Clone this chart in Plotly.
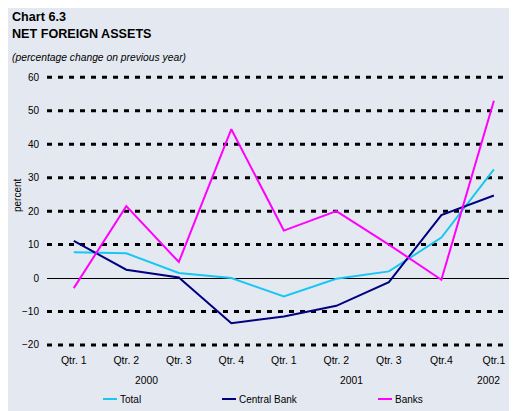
import plotly.graph_objects as go

QUARTERS = ["Qtr. 1", "Qtr. 2", "Qtr. 3", "Qtr. 4", "Qtr. 1", "Qtr. 2", "Qtr. 3", "Qtr.4", "Qtr.1"]
YEARS = ["2000", "2001", "2002"]
TOTAL = [7.7, 7.4, 1.5, 0.0, -5.5, -0.2, 2.0, 12.1, 32.5]
CENTRAL_BANK = [11.1, 2.5, 0.2, -13.5, -11.5, -8.3, -1.2, 18.8, 24.7]
BANKS = [-3.0, 21.5, 4.8, 44.5, 14.2, 20.0, 10.0, -0.5, 53.0]
Y_TICKS = [-20, -10, 0, 10, 20, 30, 40, 50, 60]

BG = "#E4E9F1"
FONT = "Liberation Sans, Arial, sans-serif"

# the page body has an 8px margin, so the figure is drawn 8px in from the corner
OFF = 8
# plot area in page pixels: x 47..517, y 70..352
L, T, W, H = 47, 70, 470, 282
FIG_W, FIG_H = 517 - OFF, 411 - OFF


def px(x):
    return (x - L) / W


def py(y):
    return (T + H - y) / H


series = [
    ("Total", TOTAL, "#19C6F2"),
    ("Central Bank", CENTRAL_BANK, "#000080"),
    ("Banks", BANKS, "#FF00FF"),
]

fig = go.Figure()
xs = list(range(len(QUARTERS)))
for name, vals, color in series:
    fig.add_trace(go.Scatter(x=xs, y=vals, name=name, mode="lines",
                             line=dict(color=color, width=2), showlegend=False))

shapes = []
for v in Y_TICKS:
    if v == 0:
        continue
    shapes.append(dict(type="line", xref="paper", yref="y", x0=0, x1=1, y0=v, y1=v,
                       line=dict(color="black", width=3, dash="5px,6px"), layer="below"))

annotations = [
    dict(text="<b>Chart 6.3</b>", x=px(10), y=py(17), font=dict(size=12.6)),
    dict(text="<b>NET FOREIGN ASSETS</b>", x=px(10), y=py(34), font=dict(size=12.6)),
    dict(text="<i>(percentage change on previous year)</i>", x=px(10), y=py(58), font=dict(size=10.3)),
    dict(text="percent", x=px(17), y=py(195), textangle=-90, xanchor="center", font=dict(size=10)),
]
for a in annotations:
    a.setdefault("xanchor", "left")
    a.update(xref="paper", yref="paper", yanchor="middle", showarrow=False)

for yr, xpos in zip(YEARS, [1.38, 5.29, 7.9]):
    annotations.append(dict(text=yr, x=xpos, xref="x", y=py(380), yref="paper",
                            yanchor="middle", showarrow=False, font=dict(size=10.3)))

# legend drawn by hand: short line key + label
for (name, vals, color), x0 in zip(series, [103, 222, 378]):
    shapes.append(dict(type="line", xref="paper", yref="paper", x0=px(x0), x1=px(x0 + 14),
                       y0=py(399), y1=py(399), line=dict(color=color, width=2)))
    annotations.append(dict(text=name, x=px(x0 + 15), y=py(399), xref="paper", yref="paper",
                            xanchor="left", yanchor="middle", showarrow=False, font=dict(size=10)))

fig.update_layout(
    width=FIG_W, height=FIG_H,
    margin=dict(l=L - OFF, r=0, t=T - OFF, b=FIG_H - (T + H - OFF)),
    paper_bgcolor=BG, plot_bgcolor=BG,
    font=dict(family=FONT, size=10, color="black"),
    shapes=shapes, annotations=annotations,
    xaxis=dict(range=[-0.51, 8.44], tickvals=xs, ticktext=QUARTERS, showgrid=False,
               zeroline=False, showline=False, ticks="", tickfont=dict(size=10.5),
               fixedrange=True),
    yaxis=dict(range=[-22.1, 62.2], tickvals=Y_TICKS, showgrid=False, zeroline=True,
               zerolinecolor="black", zerolinewidth=1, showline=False, ticks="outside",
               ticklen=5, tickcolor="rgba(0,0,0,0)", fixedrange=True),
)

fig.write_html("out.html")
